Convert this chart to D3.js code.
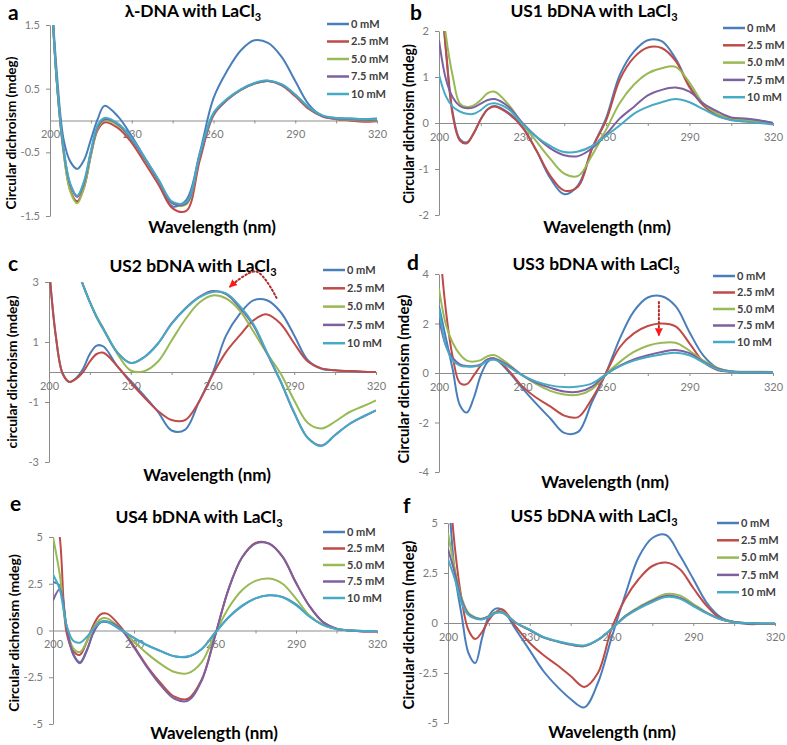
<!DOCTYPE html>
<html>
<head>
<meta charset="utf-8">
<script src="https://cdn.jsdelivr.net/npm/d3@7"></script>
<style>
body { margin: 0; background: #fff; }
svg { display: block; font-family: Lato, "Open Sans", sans-serif; }
</style>
</head>
<body>
<svg id="chart" width="787" height="745"></svg>
<script>
// wavelength grid (nm) shared by every series
const wl = [200, 202.5, 205, 207.5, 210, 212.5, 215, 217.5, 220, 225, 230, 235, 240, 245, 250,
            255, 260, 265, 270, 275, 280, 285, 290, 295, 300, 305, 310, 315, 320];
const concLabels = ["0 mM", "2.5 mM", "5.0 mM", "7.5 mM", "10 mM"];
const xTickValues = [200, 215, 230, 245, 260, 275, 290, 305, 320];

// a: lambda-DNA
const a0   = [2.4, 0.75, -0.3, -0.65, -0.76, -0.62, -0.3, 0.02, 0.23, 0.06, -0.25, -0.6, -0.95, -1.35, -1.25, -0.5, 0.35, 0.78, 1.1, 1.26, 1.22, 1.0, 0.62, 0.25, 0.07, 0.04, 0.03, 0.02, 0.03];
const a25  = [2.4, 0.6, -0.5, -1.1, -1.27, -1.05, -0.55, -0.15, -0.03, -0.12, -0.35, -0.68, -1.02, -1.38, -1.42, -0.62, 0.08, 0.32, 0.48, 0.58, 0.62, 0.55, 0.38, 0.18, 0.06, 0.02, 0.0, -0.02, -0.01];
const a50  = [2.4, 0.6, -0.5, -1.12, -1.3, -1.05, -0.55, -0.12, 0.0, -0.08, -0.3, -0.62, -0.96, -1.3, -1.32, -0.55, 0.1, 0.33, 0.48, 0.58, 0.62, 0.56, 0.4, 0.2, 0.07, 0.03, 0.01, 0.0, 0.0];
const a75  = [2.4, 0.62, -0.45, -1.02, -1.2, -0.98, -0.5, -0.1, 0.02, -0.06, -0.3, -0.62, -0.96, -1.3, -1.3, -0.55, 0.1, 0.33, 0.48, 0.58, 0.62, 0.56, 0.4, 0.2, 0.07, 0.03, 0.02, 0.01, 0.01];
const a100 = [2.4, 0.62, -0.45, -1.0, -1.18, -0.95, -0.48, -0.07, 0.04, -0.05, -0.28, -0.6, -0.94, -1.28, -1.28, -0.52, 0.12, 0.34, 0.49, 0.59, 0.63, 0.57, 0.41, 0.21, 0.08, 0.04, 0.03, 0.02, 0.02];

// b: US1
const b0   = [3.5, 1.6, 0.2, -0.35, -0.42, -0.22, 0.08, 0.3, 0.37, 0.22, -0.08, -0.6, -1.2, -1.55, -1.35, -0.55, 0.1, 1.05, 1.55, 1.8, 1.78, 1.4, 0.8, 0.4, 0.18, 0.1, 0.07, 0.05, 0.0];
const b25  = [3.5, 1.55, 0.15, -0.38, -0.44, -0.22, 0.08, 0.3, 0.36, 0.2, -0.1, -0.6, -1.15, -1.47, -1.38, -0.55, 0.05, 0.95, 1.42, 1.64, 1.63, 1.35, 0.78, 0.38, 0.16, 0.07, 0.04, 0.02, 0.0];
const b50  = [3.5, 1.9, 1.0, 0.42, 0.35, 0.38, 0.5, 0.65, 0.68, 0.4, -0.02, -0.4, -0.78, -1.1, -1.15, -0.7, -0.15, 0.44, 0.83, 1.08, 1.19, 1.22, 0.88, 0.42, 0.2, 0.1, 0.06, 0.03, 0.0];
const b75  = [1.8, 0.95, 0.55, 0.37, 0.32, 0.34, 0.42, 0.5, 0.52, 0.35, 0.0, -0.3, -0.55, -0.7, -0.72, -0.55, -0.25, 0.1, 0.35, 0.6, 0.72, 0.77, 0.68, 0.42, 0.25, 0.12, 0.1, 0.06, 0.0];
const b100 = [1.05, 0.58, 0.35, 0.25, 0.2, 0.2, 0.28, 0.4, 0.43, 0.3, -0.02, -0.3, -0.5, -0.63, -0.62, -0.5, -0.28, -0.05, 0.2, 0.35, 0.45, 0.52, 0.45, 0.3, 0.15, 0.06, 0.03, 0.0, -0.03];

// c: US2
const c0   = [3.5, 1.2, -0.05, -0.33, -0.2, 0.11, 0.6, 0.88, 0.85, 0.2, -0.3, -0.8, -1.33, -1.95, -1.92, -1.0, -0.05, 1.22, 1.94, 2.39, 2.39, 2.0, 1.22, 0.39, 0.11, 0.06, 0.03, 0.01, 0.0];
const c25  = [3.5, 1.2, -0.05, -0.33, -0.22, 0.0, 0.35, 0.6, 0.64, 0.2, -0.35, -0.85, -1.3, -1.6, -1.6, -1.0, -0.1, 0.67, 1.22, 1.72, 1.92, 1.61, 0.95, 0.35, 0.12, 0.06, 0.03, 0.01, 0.0];
const c50  = [null, null, null, null, 3.5, 2.9, 2.33, 1.85, 1.45, 0.62, 0.05, 0.03, 0.35, 1.05, 1.75, 2.3, 2.55, 2.45, 2.05, 1.35, 0.62, -0.05, -0.95, -1.7, -1.88, -1.65, -1.35, -1.15, -0.95];
const c75  = [null, null, null, null, 3.5, 2.9, 2.33, 1.82, 1.42, 0.66, 0.3, 0.5, 0.95, 1.62, 2.12, 2.5, 2.7, 2.6, 2.15, 1.55, 0.62, -0.32, -1.37, -2.2, -2.45, -2.1, -1.75, -1.5, -1.28];
const c100 = [null, null, null, null, 3.5, 2.9, 2.33, 1.82, 1.42, 0.66, 0.3, 0.5, 0.95, 1.6, 2.1, 2.48, 2.67, 2.62, 2.2, 1.6, 0.65, -0.3, -1.35, -2.2, -2.47, -2.1, -1.75, -1.5, -1.28];

// d: US3
const d0   = [2.7, 1.4, 0.1, -1.3, -1.6, -1.0, -0.1, 0.45, 0.58, 0.05, -0.62, -1.25, -1.84, -2.42, -2.38, -1.16, 0.0, 1.4, 2.49, 3.05, 3.1, 2.7, 1.65, 0.7, 0.2, 0.06, 0.02, 0.02, 0.02];
const d25  = [5.5, 2.5, 0.6, -0.4, -0.45, -0.1, 0.3, 0.55, 0.58, 0.1, -0.55, -1.0, -1.35, -1.72, -1.78, -1.03, 0.0, 1.05, 1.6, 1.9, 2.0, 1.88, 1.2, 0.45, 0.12, 0.05, 0.03, 0.02, 0.02];
const d50  = [3.4, 1.95, 1.2, 0.75, 0.5, 0.46, 0.52, 0.68, 0.72, 0.35, -0.1, -0.45, -0.72, -0.87, -0.88, -0.65, -0.05, 0.45, 0.85, 1.1, 1.22, 1.22, 0.9, 0.5, 0.2, 0.06, 0.05, 0.05, 0.04];
const d75  = [2.2, 1.1, 0.6, 0.35, 0.28, 0.28, 0.35, 0.55, 0.58, 0.3, -0.1, -0.4, -0.6, -0.75, -0.76, -0.55, -0.05, 0.3, 0.55, 0.72, 0.85, 0.93, 0.8, 0.45, 0.18, 0.06, 0.04, 0.03, 0.02];
const d100 = [2.6, 1.1, 0.5, 0.3, 0.26, 0.26, 0.32, 0.5, 0.53, 0.25, -0.1, -0.35, -0.5, -0.57, -0.55, -0.42, -0.05, 0.28, 0.5, 0.65, 0.75, 0.82, 0.72, 0.42, 0.15, 0.05, 0.03, 0.02, 0.02];

// e: US4
const e0   = [2.6, 2.4, 0.2, -1.3, -1.75, -1.1, -0.1, 0.42, 0.45, 0.05, -0.4, -0.8, -1.1, -1.38, -1.4, -1.0, -0.12, 0.7, 1.3, 1.72, 1.88, 1.8, 1.4, 0.75, 0.3, 0.08, 0.0, -0.03, -0.03];
const e25  = [7.0, 5.0, -0.1, -1.1, -1.3, -0.6, 0.3, 0.85, 0.9, 0.2, -0.85, -1.94, -2.83, -3.54, -3.65, -2.65, -0.3, 2.2, 3.9, 4.68, 4.65, 3.95, 2.55, 1.3, 0.45, 0.1, 0.0, -0.05, -0.05];
const e50  = [5.0, 3.0, 0.2, -0.95, -1.15, -0.6, 0.15, 0.6, 0.65, 0.1, -0.6, -1.25, -1.8, -2.22, -2.28, -1.7, -0.2, 1.2, 2.15, 2.65, 2.78, 2.5, 1.7, 0.8, 0.3, 0.08, 0.0, -0.03, -0.03];
const e75  = [1.6, 2.2, 0.2, -1.25, -1.7, -1.05, -0.1, 0.45, 0.48, 0.1, -0.9, -2.0, -2.95, -3.65, -3.75, -2.7, -0.3, 2.2, 3.9, 4.65, 4.65, 3.95, 2.55, 1.3, 0.45, 0.1, 0.0, -0.05, -0.05];
const e100 = [3.0, 2.2, 0.3, -0.55, -0.65, -0.35, 0.1, 0.45, 0.48, 0.05, -0.4, -0.8, -1.12, -1.38, -1.38, -1.0, -0.15, 0.7, 1.33, 1.72, 1.88, 1.78, 1.35, 0.75, 0.3, 0.08, 0.0, -0.03, -0.03];

// f: US5
const f0   = [7.0, 2.5, 0.4, -1.5, -2.0, -0.75, 0.35, 0.72, 0.65, -0.35, -1.37, -2.4, -3.17, -3.8, -4.22, -3.0, -0.75, 1.4, 3.3, 4.25, 4.4, 3.4, 2.2, 1.0, 0.3, 0.05, -0.05, -0.05, -0.05];
const f25  = [8.0, 3.8, 1.2, -0.35, -0.8, -0.45, 0.15, 0.55, 0.68, -0.2, -1.0, -1.6, -2.1, -2.65, -3.2, -2.5, -0.3, 1.2, 2.2, 2.85, 3.02, 2.7, 1.75, 0.85, 0.22, 0.05, -0.02, -0.05, -0.05];
const f50  = [4.5, 2.7, 1.25, 0.5, 0.28, 0.22, 0.35, 0.55, 0.55, 0.0, -0.35, -0.72, -0.92, -1.08, -1.15, -0.85, -0.3, 0.35, 0.8, 1.15, 1.45, 1.38, 0.95, 0.52, 0.2, 0.05, 0.0, -0.02, -0.02];
const f75  = [3.7, 2.5, 1.15, 0.45, 0.25, 0.2, 0.33, 0.52, 0.52, 0.0, -0.35, -0.72, -0.92, -1.08, -1.15, -0.85, -0.3, 0.33, 0.75, 1.1, 1.35, 1.27, 0.88, 0.5, 0.2, 0.05, 0.0, -0.02, -0.02];
const f100 = [3.2, 2.2, 1.0, 0.4, 0.22, 0.18, 0.3, 0.5, 0.5, 0.0, -0.33, -0.7, -0.9, -1.05, -1.12, -0.83, -0.3, 0.3, 0.72, 1.05, 1.3, 1.22, 0.85, 0.48, 0.18, 0.04, 0.0, -0.02, -0.02];

const colors = ["#4A7EBB", "#BE4B48", "#98B954", "#7D60A0", "#46AAC5"];

// layout of the six panels (pixels)
const panels = [
  { letter: "a", title: "\u03bb-DNA with LaCl", ytitle: "Circular dichroism (mdeg)", series: [a0, a25, a50, a75, a100],
    yDomain: [-1.5, 1.5], yTicks: [-1.5, -0.5, 0.5, 1.5], box: [50, 377, 25, 216], ytSize: 13.6,
    titlePos: [193, 17], letterPos: [8, 20], ytPos: [16, 133], xtPos: [212, 233], legend: [327, 24, 17.5] },
  { letter: "b", title: "US1 bDNA with LaCl", ytitle: "Circular dichroism (mdeg)", series: [b0, b25, b50, b75, b100],
    yDomain: [-2, 2], yTicks: [-2, -1, 0, 1, 2], box: [439, 773, 31, 215], ytSize: 14.2,
    titlePos: [594, 17], letterPos: [410, 20], ytPos: [414, 124], xtPos: [607, 233], legend: [723, 28, 17.3] },
  { letter: "c", title: "US2 bDNA with LaCl", ytitle: "circular dichroism (mdeg)", series: [c0, c25, c50, c75, c100],
    yDomain: [-3, 3], yTicks: [-3, -1, 1, 3], box: [49, 376, 282, 462], ytSize: 13.8,
    titlePos: [193, 272], letterPos: [8, 271], ytPos: [17, 372], xtPos: [207, 481], legend: [323, 270, 18.3] },
  { letter: "d", title: "US3 bDNA with LaCl", ytitle: "Circular dichroism (mdeg)", series: [d0, d25, d50, d75, d100],
    yDomain: [-4, 4], yTicks: [-4, -2, 0, 2, 4], box: [439, 773, 274, 472], ytSize: 15,
    titlePos: [596, 270], letterPos: [407, 270], ytPos: [409, 379], xtPos: [605, 488], legend: [713, 276, 16.5] },
  { letter: "e", title: "US4 bDNA with LaCl", ytitle: "Circular dichroism (mdeg)", series: [e0, e25, e50, e75, e100],
    yDomain: [-5, 5], yTicks: [-5, -2.5, 0, 2.5, 5], box: [53, 377, 537, 724], ytSize: 14,
    titlePos: [199, 523], letterPos: [10, 511], ytPos: [19, 633], xtPos: [214, 739], legend: [323, 532, 16.5] },
  { letter: "f", title: "US5 bDNA with LaCl", ytitle: "Circular dichroism (mdeg)", series: [f0, f25, f50, f75, f100],
    yDomain: [-5, 5], yTicks: [-5, -2.5, 0, 2.5, 5], box: [448, 775, 523, 723], ytSize: 15,
    titlePos: [594, 522], letterPos: [403, 513], ytPos: [414, 625], xtPos: [612, 738], legend: [717, 523, 17.3] }
];

// dotted arrows (data units of panels c and d)
const arrowC = [[283.5, 2.47], [276, 3.35], [266.5, 2.85]];
const arrowD = [[279, 2.87], [279, 1.55]];

const svg = d3.select("#chart");
const defs = svg.append("defs");
defs.append("marker").attr("id", "head").attr("viewBox", "0 0 10 10")
  .attr("refX", 8).attr("refY", 5).attr("markerWidth", 4).attr("markerHeight", 4)
  .attr("orient", "auto")
  .append("path").attr("d", "M0,0 L10,5 L0,10 Z").attr("fill", "#ff1a1a");

const scales = [];

function styleAxis(a) {
  a.select(".domain").attr("stroke", "#8c8c8c");
  a.selectAll(".tick line").attr("stroke", "#8c8c8c");
  a.selectAll(".tick text").attr("fill", "#7a7a7a").attr("font-size", 11).attr("font-family", "Lato, sans-serif");
}

panels.forEach((p, i) => {
  const [x0, x1, yTop, yBot] = p.box;
  const x = d3.scaleLinear().domain([200, 320]).range([x0, x1]);
  const y = d3.scaleLinear().domain(p.yDomain).range([yBot, yTop]);
  scales.push({ x, y });
  const g = svg.append("g");

  defs.append("clipPath").attr("id", "clip" + i).append("rect")
    .attr("x", x0).attr("y", yTop).attr("width", x1 - x0).attr("height", yBot - yTop);

  // y axis
  g.append("g").attr("transform", `translate(${x0},0)`)
    .call(d3.axisLeft(y).tickValues(p.yTicks).tickSize(4).tickPadding(6).tickSizeOuter(0).tickFormat(d => d))
    .call(styleAxis);

  // x axis along zero
  g.append("g").attr("transform", `translate(0,${y(0)})`)
    .call(d3.axisBottom(x).tickValues(xTickValues).tickSize(3).tickPadding(7).tickSizeOuter(0)
      .tickFormat(d => (d - 200) % 30 === 0 ? d : ""))
    .call(styleAxis);

  // curves
  const line = d3.line()
    .defined(d => d[1] != null)
    .x(d => x(d[0])).y(d => y(d[1]))
    .curve(d3.curveCatmullRom.alpha(0.5));
  const lines = g.append("g").attr("clip-path", `url(#clip${i})`);
  p.series.forEach((vals, k) => {
    lines.append("path")
      .datum(wl.map((w, j) => [w, vals[j]]))
      .attr("d", line)
      .attr("fill", "none")
      .attr("stroke", colors[k])
      .attr("stroke-width", 2)
      .attr("stroke-linejoin", "round");
  });

  // title with subscript
  const t = g.append("text").attr("x", p.titlePos[0]).attr("y", p.titlePos[1])
    .attr("text-anchor", "middle").attr("font-weight", "bold").attr("font-size", 17.4);
  t.append("tspan").text(p.title);
  t.append("tspan").attr("font-size", 11).attr("dy", 4).text("3");

  g.append("text").attr("x", p.letterPos[0]).attr("y", p.letterPos[1])
    .attr("font-weight", "bold").attr("font-size", 21).text(p.letter);

  g.append("text").attr("transform", `translate(${p.ytPos[0]},${p.ytPos[1]}) rotate(-90)`)
    .attr("text-anchor", "middle").attr("font-weight", "bold").attr("font-size", p.ytSize).text(p.ytitle);

  g.append("text").attr("x", p.xtPos[0]).attr("y", p.xtPos[1])
    .attr("text-anchor", "middle").attr("font-weight", "bold").attr("font-size", 17).text("Wavelength (nm)");

  // legend
  const [lx, ly, ldy] = p.legend;
  concLabels.forEach((lab, k) => {
    const yy = ly + k * ldy;
    g.append("line").attr("x1", lx).attr("x2", lx + 22).attr("y1", yy).attr("y2", yy)
      .attr("stroke", colors[k]).attr("stroke-width", 2.5);
    g.append("text").attr("x", lx + 24).attr("y", yy).attr("dy", "0.35em")
      .attr("font-size", 11).attr("font-weight", "bold").attr("fill", "#404040").text(lab);
  });
});

// annotation arrows
const sc = scales[2], sd = scales[3];
svg.append("path")
  .datum(arrowC)
  .attr("d", d3.line().x(d => sc.x(d[0])).y(d => sc.y(d[1])).curve(d3.curveCatmullRom))
  .attr("fill", "none").attr("stroke", "#b22a2a").attr("stroke-width", 2)
  .attr("stroke-dasharray", "1.5,2.5").attr("stroke-linecap", "round")
  .attr("marker-end", "url(#head)");
svg.append("path")
  .datum(arrowD)
  .attr("d", d3.line().x(d => sd.x(d[0])).y(d => sd.y(d[1])))
  .attr("fill", "none").attr("stroke", "#b22a2a").attr("stroke-width", 2)
  .attr("stroke-dasharray", "1.5,2.5").attr("stroke-linecap", "round")
  .attr("marker-end", "url(#head)");
</script>
</body>
</html>
